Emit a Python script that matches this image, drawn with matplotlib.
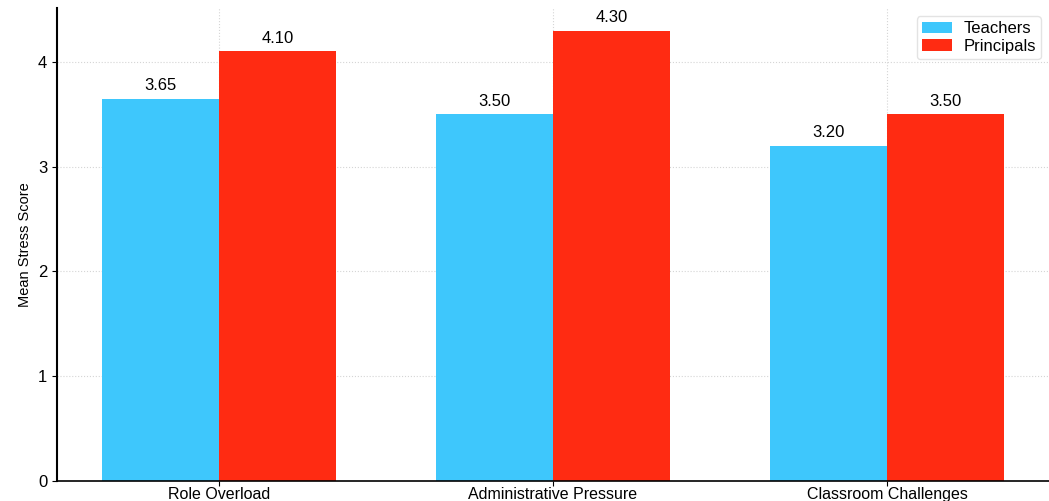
import numpy as np
import matplotlib
matplotlib.use('Agg')
from matplotlib import pyplot as plt

plt.rcParams['font.family'] = ['Liberation Sans', 'DejaVu Sans']

categories = ['Role Overload', 'Administrative Pressure', 'Classroom Challenges']
teachers = [3.65, 3.50, 3.20]
principals = [4.10, 4.30, 3.50]

x = np.arange(len(categories))
width = 0.35

fig = plt.figure(figsize=(10.49, 5.01), dpi=100)
ax = fig.add_axes([57 / 1049, 20 / 501, 992 / 1049, 473 / 501])

b1 = ax.bar(x - width / 2, teachers, width, label='Teachers', color='#3ec7fc')
b2 = ax.bar(x + width / 2, principals, width, label='Principals', color='#ff2b12')

for bars in (b1, b2):
    ax.bar_label(bars, labels=['%.2f' % v for v in bars.datavalues],
                 padding=4, fontsize=12)

ax.set_xticks(x)
ax.set_xticklabels(categories, fontsize=11.5)
ax.tick_params(axis='x', pad=0.5)
ax.tick_params(axis='y', labelsize=12)
ax.set_ylabel('Mean Stress Score', fontsize=10.5)
ax.grid(True, linestyle=':', color='#d5d5d5', linewidth=0.8)
ax.set_axisbelow(True)
ax.spines['top'].set_visible(False)
ax.spines['right'].set_visible(False)
ax.spines['left'].set_linewidth(1.5)
ax.spines['bottom'].set_linewidth(1.2)
ax.legend(loc='upper right', fontsize=12, handlelength=1.8, labelspacing=0.15,
          borderpad=0.3, handletextpad=0.7, edgecolor='#dddddd')

fig.savefig('out.png', dpi=100)
